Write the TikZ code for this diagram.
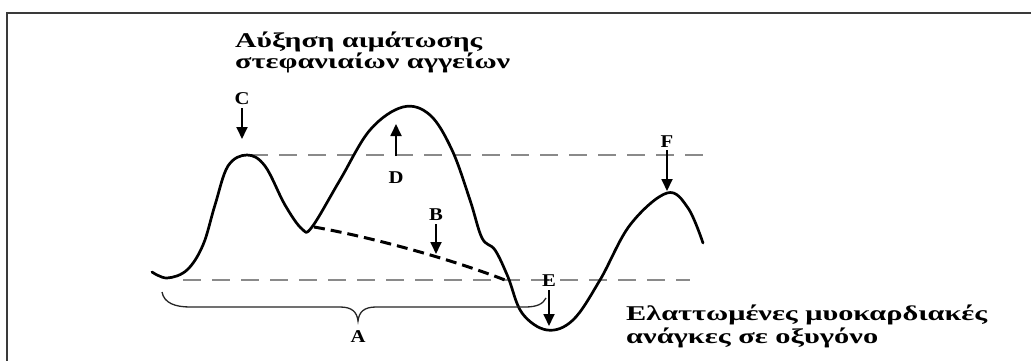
\documentclass[tikz,border=0pt]{standalone}
\usepackage{fontspec}
\setmainfont{Liberation Serif}
\usepackage{graphicx}
\usetikzlibrary{arrows.meta}
\definecolor{gridgrey}{HTML}{8A8A8A}
\definecolor{framegrey}{HTML}{3A3A3A}
\tikzset{
  curveline/.style={line width=2.7pt, black, line cap=round, line join=round},
  dashedB/.style={line width=3pt, black, dash pattern=on 11pt off 6pt},
  refline/.style={line width=1.6pt, gridgrey, dash pattern=on 18pt off 11pt},
  pointer/.style={line width=1.8pt, black, -{Triangle[width=11pt,length=12pt]}},
  letter/.style={font=\fontsize{18}{18}\selectfont\bfseries, inner sep=0pt},
  caption/.style={font=\fontsize{21}{22}\selectfont\bfseries, inner sep=0pt, anchor=west},
  bracepath/.style={line width=1.3pt, black!85},
  frameline/.style={line width=2.4pt, framegrey}
}
\begin{document}
\begin{tikzpicture}[x=1pt, y=-1pt]
\useasboundingbox (0,0) rectangle (1031,361);
\fill[white] (0,0) rectangle (1031,361);
% frame (top and left edges only)
\draw[frameline] (7,361) -- (7,13) -- (1031,13);
% reference dashed lines
\draw[refline] (250,155) -- (705,155);
\draw[refline] (183,280) -- (690,280);
% main curve
\draw[curveline] plot[smooth, tension=0.6] coordinates {
 (152,272) (167,278) (187,270) (203,245) (215,205) (228,166) (247,155)
 (265,166) (285,205) (302,229) (312,227) (340,180) (370,130) (403,107)
 (430,115) (452,150) (470,200) (482,238) (495,250) (508,277) (522,313)
 (547,330) (573,320) (600,280) (630,225) (667,193) (688,208) (703,243)};
% dashed B curve
\draw[dashedB] (314,227) .. controls (360,235) and (440,255) .. (505,280);
% brace A
\draw[bracepath] (162,292) .. controls (164,303) and (175,307) .. (190,307)
  -- (340,307) .. controls (352,307) and (357,312) .. (358,321)
  .. controls (359,312) and (364,307) .. (376,307) -- (525,307)
  .. controls (537,307) and (543,304) .. (546,298);
% labels
\node[letter] (C) at (242,99) {\scalebox{1.15}[1]{C}};
\node[letter] (D) at (396,178) {\scalebox{1.15}[1]{D}};
\node[letter] (B) at (436,215) {\scalebox{1.15}[1]{B}};
\node[letter] (E) at (549,281) {\scalebox{1.15}[1]{E}};
\node[letter] (F) at (667,142) {\scalebox{1.15}[1]{F}};
\node[letter] (A) at (358,337) {\scalebox{1.15}[1]{A}};
% pointer arrows
\coordinate (Ct) at (242,139);
\coordinate (Dt) at (396,124);
\coordinate (Db) at (396,156);
\coordinate (Bt) at (436,254);
\coordinate (Et) at (549,326);
\coordinate (Ft) at (667,191);
\draw[pointer] (C.south) ++(0,3) -- (Ct);
\draw[pointer] (Db) -- (Dt);
\draw[pointer] (B.south) ++(0,3) -- (Bt);
\draw[pointer] (E.south) ++(0,3) -- (Et);
\draw[pointer] (F.south) ++(0,2) -- (Ft);
% captions
\node[caption] (t1) at (235,42) {\resizebox{247pt}{\height}{Αύξηση αιμάτωσης}};
\node[caption] (t2) at (235,63) {\resizebox{275pt}{\height}{στεφανιαίων αγγείων}};
\node[caption] (b1) at (626,315) {\resizebox{361pt}{\height}{Ελαττωμένες μυοκαρδιακές}};
\node[caption] (b2) at (626,338) {\resizebox{252pt}{\height}{ανάγκες σε οξυγόνο}};
\end{tikzpicture}
\end{document}
